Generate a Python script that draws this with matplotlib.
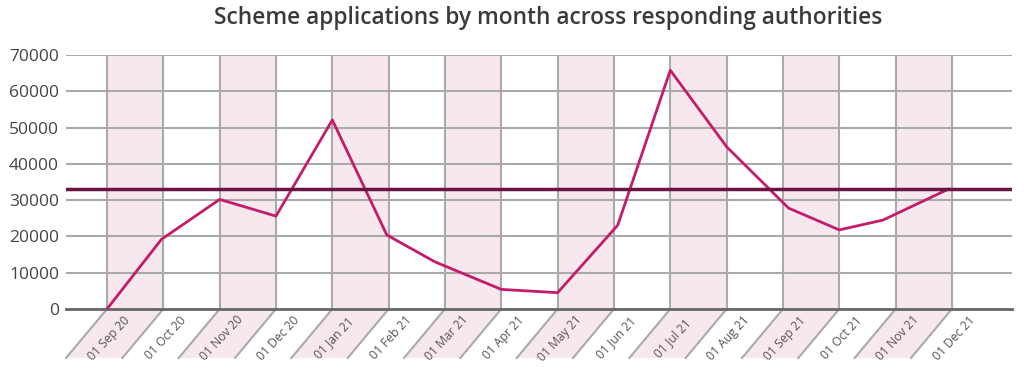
"""
Scheme applications by month - line chart with alternating month bands
"""
import calendar
import matplotlib
matplotlib.use("Agg")
import matplotlib.pyplot as plt
import matplotlib.patches as patches

# ============= DATA =============
point_dates = ["2020-09-01", "2020-09-30", "2020-11-01", "2020-12-01",
               "2021-01-01", "2021-01-31", "2021-02-24", "2021-04-01",
               "2021-05-01", "2021-06-03", "2021-07-01", "2021-08-01",
               "2021-09-04", "2021-10-01", "2021-10-25", "2021-11-29"]
applications = [0, 19200, 30200, 25600, 52100, 20400, 13000, 5400,
                4500, 23100, 65800, 44700, 27800, 21800, 24500, 33000]
target_value = 33000

month_ticks = ["2020-09-01", "2020-10-01", "2020-11-01", "2020-12-01",
               "2021-01-01", "2021-02-01", "2021-03-01", "2021-04-01",
               "2021-05-01", "2021-06-01", "2021-07-01", "2021-08-01",
               "2021-09-01", "2021-10-01", "2021-11-01", "2021-12-01"]
month_labels = ["01 Sep 20", "01 Oct 20", "01 Nov 20", "01 Dec 20",
                "01 Jan 21", "01 Feb 21", "01 Mar 21", "01 Apr 21",
                "01 May 21", "01 Jun 21", "01 Jul 21", "01 Aug 21",
                "01 Sep 21", "01 Oct 21", "01 Nov 21", "01 Dec 21"]
y_ticks = [0, 10000, 20000, 30000, 40000, 50000, 60000, 70000]

# ============= STYLE =============
LINE_COL = "#c41c6a"
TARGET_COL = "#6a1442"
GRID_COL = "#aaaaaa"
BAND_COL = "#f6e8ee"
TEXT_COL = "#444444"
plt.rcParams['font.family'] = ['Open Sans', 'DejaVu Sans']

W, H = 1024, 382
fig = plt.figure(figsize=(W / 100, H / 100), dpi=100)
ax_left, ax_right, ax_top, ax_bottom = 66, 1012, 55, 309
ax = fig.add_axes([ax_left / W, (H - ax_bottom) / H,
                   (ax_right - ax_left) / W, (ax_bottom - ax_top) / H])

# each month gets the same width on the axis
def month_pos(s):
    y, m, d = (int(p) for p in s.split("-"))
    ndays = calendar.monthrange(y, m)[1]
    return (y - 2020) * 12 + (m - 9) + (d - 1) / ndays

xs = [month_pos(d) for d in point_dates]
ticks = [month_pos(d) for d in month_ticks]

px_per_month = 56.33
xmin = ticks[0] - 41 / px_per_month
xmax = xmin + (ax_right - ax_left) / px_per_month
ax.set_xlim(xmin, xmax)
ymax = y_ticks[-1]
ax.set_ylim(0, ymax)
units_per_px = ymax / (ax_bottom - ax_top)

# slant below the axis (pixels -> data units)
slant_dx = -41 / px_per_month
slant_dy = -49 * units_per_px

# shaded bands (every other month) in plot and in the label strip
for i in range(0, len(ticks) - 1, 2):
    a, b = ticks[i], ticks[i + 1]
    ax.add_patch(patches.Rectangle((a, 0), b - a, ymax, facecolor=BAND_COL,
                                   edgecolor='none', zorder=0))
    ax.add_patch(patches.Polygon([(a, 0), (b, 0), (b + slant_dx, slant_dy),
                                  (a + slant_dx, slant_dy)], closed=True,
                                 facecolor=BAND_COL, edgecolor='none',
                                 clip_on=False, zorder=0))

# horizontal grid
for yv in y_ticks[1:]:
    ax.axhline(yv, color=GRID_COL, linewidth=1.5, zorder=1)

# vertical grid + slanted continuation
for t in ticks:
    ax.plot([t, t], [0, ymax], color=GRID_COL, linewidth=1.5, zorder=1)
    ax.plot([t, t + slant_dx], [0, slant_dy], color=GRID_COL, linewidth=1.5,
            clip_on=False, zorder=1)

# tick labels in the slanted strip
for t, lab in zip(ticks, month_labels):
    ax.text(t + 2 / px_per_month, -29 * units_per_px, lab, rotation=47,
            ha='center', va='center', rotation_mode='anchor', fontsize=8.7,
            color="#555555")

# axis line
ax.axhline(0, color="#666666", linewidth=2, zorder=3, clip_on=False)

# data
ax.plot(xs, applications, color=LINE_COL, linewidth=2, zorder=4)
ax.axhline(target_value, color=TARGET_COL, linewidth=2.5, zorder=5)

ax.set_yticks(y_ticks)
ax.set_yticklabels([str(v) for v in y_ticks], fontsize=12.5, color=TEXT_COL)
ax.tick_params(axis='y', length=0, pad=5)
ax.set_xticks([])
for side in ['top', 'right', 'bottom', 'left']:
    ax.spines[side].set_visible(False)

fig.text(548 / W, 1 - 18 / H,
         "Scheme applications by month across responding authorities",
         ha='center', va='center', fontsize=16.4, fontweight='semibold',
         color="#3a3a3a")

fig.savefig("out.png", dpi=100)
